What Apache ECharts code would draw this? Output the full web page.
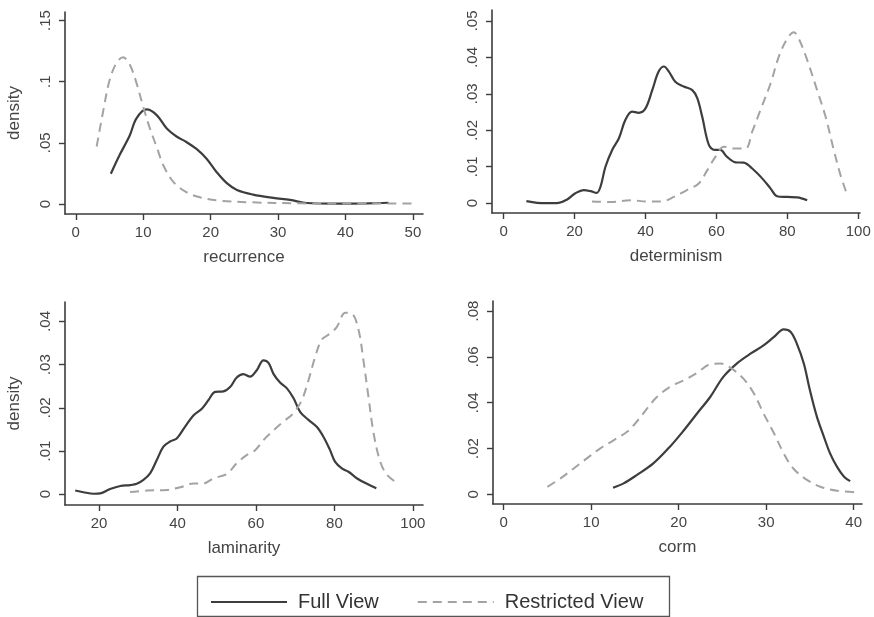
<!DOCTYPE html>
<html>
<head>
<meta charset="utf-8">
<script src="https://cdn.jsdelivr.net/npm/echarts@6/dist/echarts.min.js"></script>
<style>html,body{margin:0;padding:0;background:#fff;}#c{width:874px;height:617px;}</style>
</head>
<body>
<div id="c"></div>
<script>
// ---- Data (x, density) ----
const recurrenceFull = [[5.2,0.0247],[6.5,0.040],[8.0,0.056],[9.0,0.070],[10.5,0.0773],[12,0.0727],[13.5,0.0617],[15,0.055],[16.4,0.0507],[17.9,0.045],[19.4,0.037],[20.9,0.026],[22.4,0.017],[23.9,0.0115],[26.3,0.0077],[29.3,0.005],[31.8,0.0033],[34.3,0.0008],[38.2,0.0003],[43.2,0.0005],[46.4,0.001]];
const recurrenceRestricted = [[3.1,0.047],[4.1,0.077],[5.0,0.101],[6.0,0.115],[7.0,0.120],[8.0,0.114],[9.0,0.099],[10,0.0795],[11,0.0617],[12,0.0466],[13,0.0315],[14.5,0.0178],[16.4,0.0096],[18.4,0.0055],[21.4,0.0027],[25.8,0.0014],[33.3,0.0005],[43.2,0.0003],[50.1,0.0003]];

const determinismFull = [[6.4,0.00055],[9.4,0.0001],[12.2,0],[15.5,0.0001],[17.9,0.001],[20.2,0.0027],[22.6,0.0036],[24.5,0.0033],[26.2,0.0028],[27.3,0.0045],[28.7,0.010],[30.6,0.0146],[32.5,0.0178],[34.3,0.0228],[36.2,0.0251],[38.1,0.0248],[40.0,0.026],[41.9,0.031],[43.7,0.0361],[45.2,0.0375],[46.6,0.0361],[48.4,0.0333],[50.8,0.032],[53.2,0.031],[54.6,0.0288],[56.0,0.0237],[57.9,0.0159],[59.7,0.0146],[61.1,0.0146],[63.0,0.0127],[65.4,0.0112],[67.7,0.0111],[70.1,0.0095],[72.9,0.0068],[75.3,0.004],[77.1,0.0019],[80,0.0017],[82.8,0.0016],[85.6,0.0008]];
const determinismRestricted = [[24.9,0.00045],[30.1,0.0003],[35.7,0.0008],[40.5,0.00045],[44.7,0.0005],[48.0,0.0017],[51.7,0.0036],[55.0,0.0054],[57.4,0.009],[59.7,0.0127],[62.1,0.0155],[64.9,0.015],[68.2,0.015],[70.1,0.0196],[72.4,0.0255],[75.3,0.0329],[77.6,0.0402],[80.0,0.0452],[81.8,0.0469],[83.2,0.0452],[85.6,0.0393],[88.4,0.031],[90.8,0.0237],[93.1,0.0146],[95.0,0.0077],[96.7,0.0028]];

const laminarityFull = [[13.9,0.00085],[16.0,0.00046],[18.6,0.0001],[20.3,0.0002],[22.8,0.0012],[25.4,0.0019],[27.9,0.0021],[29.6,0.0024],[31.3,0.0033],[33.0,0.0048],[34.7,0.0079],[36.4,0.011],[38.1,0.0122],[39.8,0.0129],[41.9,0.0156],[44.1,0.0183],[46.2,0.0198],[47.9,0.0218],[49.6,0.0237],[51.7,0.0238],[53.4,0.0248],[55.1,0.027],[56.8,0.0278],[58.5,0.0272],[60.2,0.0287],[61.9,0.031],[63.2,0.0304],[64.5,0.0278],[66.2,0.0258],[67.9,0.0245],[69.6,0.0222],[71.3,0.019],[73.4,0.0172],[75.5,0.0156],[77.2,0.0133],[78.9,0.0102],[80.2,0.0075],[81.9,0.006],[83.6,0.0052],[85.7,0.0037],[88.3,0.0024],[90.7,0.0014]];
const laminarityRestricted = [[27.9,0.0005],[32.2,0.00085],[37.3,0.001],[40.7,0.0016],[44.1,0.0025],[46.6,0.0025],[49.2,0.0037],[52.6,0.0047],[55.1,0.0072],[57.7,0.0091],[59.8,0.0102],[61.9,0.0125],[64.5,0.0148],[67.0,0.0168],[69.6,0.0188],[71.7,0.0218],[73.4,0.0264],[75.1,0.0318],[76.8,0.0358],[78.9,0.0372],[80.6,0.0387],[82.8,0.042],[84.5,0.0418],[86.2,0.0379],[87.4,0.031],[88.7,0.0225],[90.0,0.0141],[91.7,0.0075],[93.4,0.0045],[95.5,0.0029]];

const cormFull = [[12.5,0.0029],[13.7,0.0048],[15.2,0.0084],[17.1,0.0135],[19.0,0.0208],[20.6,0.028],[22.1,0.0353],[23.6,0.0425],[25.1,0.0513],[26.7,0.0573],[28.2,0.0614],[29.7,0.065],[30.9,0.0687],[32.0,0.072],[32.8,0.0709],[33.5,0.0658],[34.3,0.0571],[35.0,0.0454],[35.8,0.0338],[36.6,0.0251],[37.3,0.0179],[38.1,0.012],[38.9,0.0077],[39.6,0.0058]];
const cormRestricted = [[5.0,0.0033],[6.5,0.007],[8.0,0.0113],[9.5,0.0157],[11.0,0.02],[12.6,0.0237],[14.1,0.0273],[15.2,0.0317],[16.4,0.0375],[17.5,0.0425],[19.0,0.0469],[20.6,0.0498],[22.1,0.053],[23.6,0.0568],[24.8,0.0571],[25.9,0.0553],[27.4,0.0505],[28.6,0.044],[29.7,0.0353],[30.9,0.0266],[32.0,0.0179],[33.1,0.0113],[34.7,0.0062],[36.2,0.0033],[38.1,0.0016],[40.5,0.0009]];

// ---- Tick labels ----
const recurrenceXTicks = [0,10,20,30,40,50];
const recurrenceYTicks = [0,0.05,0.1,0.15];
const determinismXTicks = [0,20,40,60,80,100];
const determinismYTicks = [0,0.01,0.02,0.03,0.04,0.05];
const laminarityXTicks = [20,40,60,80,100];
const laminarityYTicks = [0,0.01,0.02,0.03,0.04];
const cormXTicks = [0,10,20,30,40];
const cormYTicks = [0,0.02,0.04,0.06,0.08];

const seriesNames = ['Full View','Restricted View'];
const xTitles = ['recurrence','determinism','laminarity','corm'];

// ---- Styling / layout ----
const FONT = 'Liberation Sans, Arial, sans-serif';
const AXIS_COLOR = '#3c3c3c';
const TEXT_COLOR = '#444444';
const FULL_COLOR = '#3d3d3d';
const REST_COLOR = '#a3a3a3';

const panels = [
  {grid:{left:65, top:12, width:358, height:202}, xr:[-1.6,51.5], yr:[-0.0082,0.157], xt:recurrenceXTicks, yt:recurrenceYTicks, full:recurrenceFull, rest:recurrenceRestricted, yname:'density'},
  {grid:{left:492, top:10, width:368, height:203}, xr:[-3.3,100.5], yr:[-0.0027,0.053], xt:determinismXTicks, yt:determinismYTicks, full:determinismFull, rest:determinismRestricted, yname:''},
  {grid:{left:65, top:302, width:358, height:203}, xr:[11.3,102.6], yr:[-0.0025,0.0445], xt:laminarityXTicks, yt:laminarityYTicks, full:laminarityFull, rest:laminarityRestricted, yname:'density'},
  {grid:{left:493, top:301, width:369, height:203}, xr:[-1.22,40.95], yr:[-0.0042,0.0844], xt:cormXTicks, yt:cormYTicks, full:cormFull, rest:cormRestricted, yname:''}
];

function fmtY(v){ if (v === 0) return '0'; return String(+v.toFixed(4)).replace(/^0\./,'.'); }

const grids = [], xAxes = [], yAxes = [], series = [];
panels.forEach((p,i) => {
  grids.push(p.grid);
  xAxes.push({
    type:'value', gridIndex:i, min:p.xr[0], max:p.xr[1],
    name:xTitles[i], nameLocation:'middle', nameGap:35,
    nameTextStyle:{fontFamily:FONT, fontSize:17, color:TEXT_COLOR},
    axisLine:{show:true, onZero:false, lineStyle:{color:AXIS_COLOR, width:1.6}},
    axisTick:{show:true, length:6, customValues:p.xt, lineStyle:{color:AXIS_COLOR, width:1.4}},
    axisLabel:{customValues:p.xt, margin:11, fontFamily:FONT, fontSize:15, color:TEXT_COLOR},
    splitLine:{show:false}
  });
  yAxes.push({
    type:'value', gridIndex:i, min:p.yr[0], max:p.yr[1],
    name:p.yname, nameLocation:'middle', nameGap:42, nameRotate:90,
    nameTextStyle:{fontFamily:FONT, fontSize:17, color:TEXT_COLOR},
    axisLine:{show:true, onZero:false, lineStyle:{color:AXIS_COLOR, width:1.6}},
    axisTick:{show:true, length:6, customValues:p.yt, lineStyle:{color:AXIS_COLOR, width:1.4}},
    axisLabel:{customValues:p.yt, rotate:90, margin:12, fontFamily:FONT, fontSize:15, color:TEXT_COLOR, formatter:fmtY},
    splitLine:{show:false}
  });
  series.push({
    name:seriesNames[0], type:'line', xAxisIndex:i, yAxisIndex:i, data:p.full,
    smooth:0.35, symbol:'none', lineStyle:{color:FULL_COLOR, width:2.2, type:'solid'}, itemStyle:{color:'rgba(0,0,0,0)'}
  });
  series.push({
    name:seriesNames[1], type:'line', xAxisIndex:i, yAxisIndex:i, data:p.rest,
    smooth:0.35, symbol:'none', lineStyle:{color:REST_COLOR, width:2, type:[9,6]}, itemStyle:{color:'rgba(0,0,0,0)'}
  });
});

const chart = echarts.init(document.getElementById('c'), null, {renderer:'canvas'});
chart.setOption({
  animation:false,
  backgroundColor:'#ffffff',
  grid:grids, xAxis:xAxes, yAxis:yAxes, series:series,
  legend:{
    show:true, data:seriesNames, left:205, top:587, itemWidth:76, itemHeight:14, itemGap:38,
    selectedMode:false,
    itemStyle:{opacity:0},
    formatter:function(name){ return '{g|}' + name; },
    textStyle:{fontFamily:FONT, fontSize:20, color:'#333', rich:{g:{width:6}}}
  },
  graphic:[{type:'rect', left:195, top:574, shape:{width:472, height:40}, style:{fill:'none', stroke:'#555', lineWidth:1.3}, silent:true}]
});
</script>
</body>
</html>
